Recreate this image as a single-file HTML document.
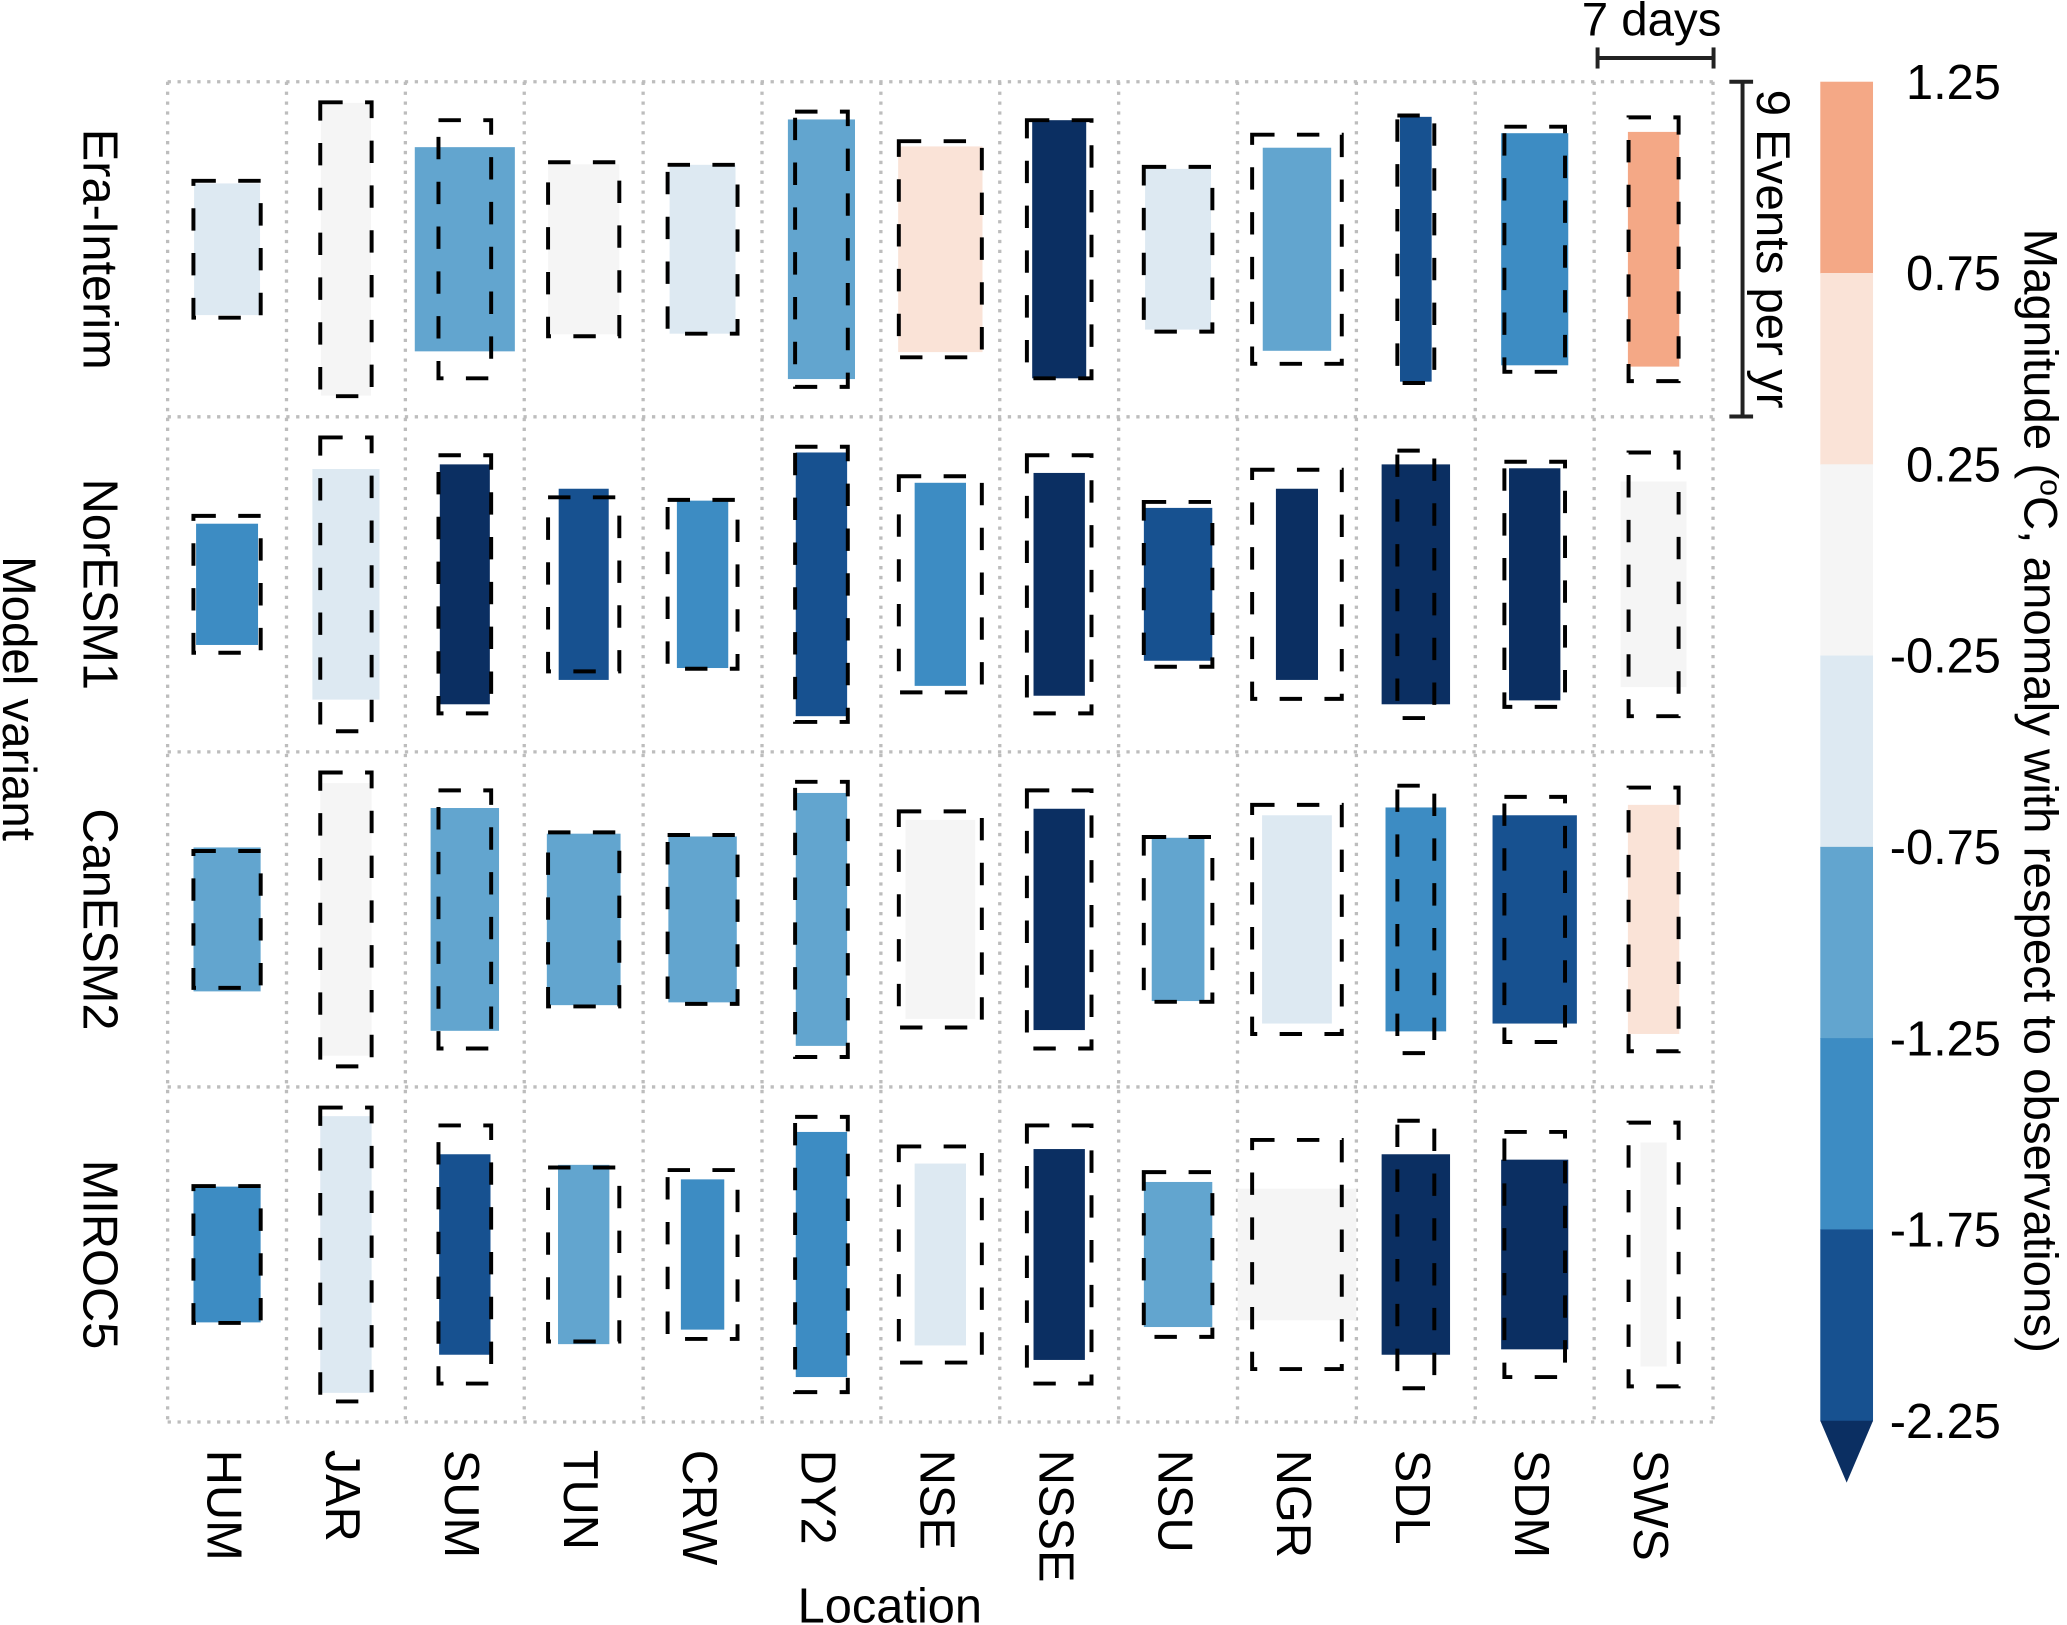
<!DOCTYPE html>
<html><head><meta charset="utf-8"><style>
html,body{margin:0;padding:0;background:#fff}
svg{display:block}
text{font-family:"Liberation Sans",Arial,sans-serif;fill:#000}
</style></head><body>
<svg id="chart" width="2067" height="1625" viewBox="0 0 1568 1233" xmlns="http://www.w3.org/2000/svg">
<g id="grid"></g>
<g id="marks"></g>
<g id="labels"></g>
<g id="cbar"></g>
</svg>
<script>
const locations=["HUM","JAR","SUM","TUN","CRW","DY2","NSE","NSSE","NSU","NGR","SDL","SDM","SWS"];
const models=["Era-Interim","NorESM1","CanESM2","MIROC5"];
// observations (dashed) per location
const obsDays=[4.06,3.10,3.18,4.30,4.22,3.18,5.01,3.90,4.14,5.41,2.23,3.66,3.02];
const obsEvents=[3.68,7.90,6.94,4.68,4.54,7.40,5.81,6.94,4.43,6.16,7.19,6.59,7.09];
// model durations (days)
const eraDays=[3.98,3.02,6.04,4.30,3.98,4.05,5.09,3.26,3.98,4.13,1.91,4.05,3.10];
const norDays=[3.74,4.05,3.02,3.02,3.10,3.10,3.10,3.10,4.13,2.54,4.13,3.10,3.98];
const canDays=[4.05,3.10,4.13,4.45,4.13,3.10,4.21,3.10,3.18,4.21,3.66,5.09,3.10];
const mirDays=[4.05,3.10,3.10,3.10,2.62,3.10,3.10,3.10,4.13,7.16,4.13,4.05,1.59];
// model events per year
const eraEvents=[3.54,7.87,5.49,4.57,4.54,6.98,5.53,6.94,4.32,5.46,7.12,6.24,6.31];
const norEvents=[3.26,6.20,6.45,5.14,4.50,7.09,5.46,5.99,4.11,5.14,6.45,6.24,5.53];
const canEvents=[3.87,7.33,5.99,4.61,4.46,6.80,5.35,5.95,4.39,5.60,6.02,5.60,6.16];
const mirEvents=[3.65,7.44,5.39,4.82,4.04,6.59,4.89,5.67,3.90,3.54,5.39,5.10,6.02];
// magnitude anomaly (°C)
const eraMag=[-0.5,0,-1.0,0,-0.5,-1.0,0.5,-2.5,-0.5,-1.0,-2.0,-1.5,1.0];
const norMag=[-1.5,-0.5,-2.5,-2.0,-1.5,-2.0,-1.5,-2.5,-2.0,-2.5,-2.5,-2.5,0];
const canMag=[-1.0,0,-1.0,-1.0,-1.0,-1.0,0,-2.5,-1.0,-0.5,-1.5,-2.0,0.5];
const mirMag=[-1.5,-0.5,-2.0,-1.0,-1.5,-1.5,-0.5,-2.5,-1.0,0,-2.5,-2.5,0];
const cbTicks=["1.25","0.75","0.25","-0.25","-0.75","-1.25","-1.75","-2.25"];
const cbBounds=[1.25,0.75,0.25,-0.25,-0.75,-1.25,-1.75,-2.25];
const cbColors=["#f4a886","#fae3d7","#f5f5f5","#dde9f2","#62a5cf","#3d8cc3","#175190"];
const underColor="#0b2f62";

const NS="http://www.w3.org/2000/svg";
function mk(tag,attrs,parent){const e=document.createElementNS(NS,tag);for(const k in attrs)e.setAttribute(k,attrs[k]);parent.appendChild(e);return e;}
const X0=127,CW=90.2,Y0=62,RH=254.25;
const pxPerDay=88/7, pxPerEvent=254/9;
const xScale=d=>d*pxPerDay, yScale=e=>e*pxPerEvent;
function colorFor(v){if(v<cbBounds[7])return underColor;for(let i=0;i<7;i++){if(v<=cbBounds[i]&&v>=cbBounds[i+1])return cbColors[i];}return cbColors[0];}
const grid=document.getElementById('grid'),marks=document.getElementById('marks'),labels=document.getElementById('labels'),cbar=document.getElementById('cbar');
const gs={stroke:"#bdbdbd","stroke-width":2.5,"stroke-dasharray":"2.5 5"};
for(let c=0;c<=locations.length;c++){const l=mk('line',Object.assign({x1:X0+c*CW,x2:X0+c*CW,y1:Y0,y2:Y0+4*RH},gs),grid);}
for(let r=0;r<=models.length;r++){const l=mk('line',Object.assign({x1:X0,x2:X0+13*CW,y1:Y0+r*RH,y2:Y0+r*RH},gs),grid);}
const allDays=[eraDays,norDays,canDays,mirDays],allEv=[eraEvents,norEvents,canEvents,mirEvents],allMag=[eraMag,norMag,canMag,mirMag];
for(let r=0;r<models.length;r++){
  const cy=Y0+(r+0.5)*RH;
  for(let c=0;c<locations.length;c++){
    const cx=X0+(c+0.5)*CW;
    const w=xScale(allDays[r][c]),h=yScale(allEv[r][c]);
    const rc=mk('rect',{x:cx-w/2,y:cy-h/2,width:w,height:h,fill:colorFor(allMag[r][c])},marks);
    
    
    const ow=xScale(obsDays[c]),oh=yScale(obsEvents[c]);
    const ob=mk('rect',{x:cx-ow/2,y:cy-oh/2,width:ow,height:oh,fill:"none",stroke:"#000","stroke-width":3,"stroke-dasharray":"17 17"},marks);
    
    
  }
  const t=mk('text',{x:0,y:0,"font-size":37,"text-anchor":"middle",transform:`translate(63,${cy}) rotate(90)`},labels);
  t.textContent=models[r];
  
  
}
for(let c=0;c<locations.length;c++){
  const cx=X0+(c+0.5)*CW;
  const t=mk('text',{x:0,y:0,"font-size":37,"text-anchor":"start",transform:`translate(${cx-15},1100) rotate(90)`},labels);
  t.textContent=locations[c];
  
  
}
let t=mk('text',{x:675,y:1231,"font-size":37,"text-anchor":"middle"},labels);t.textContent="Location";


t=mk('text',{x:0,y:0,"font-size":36,"text-anchor":"middle",transform:"translate(2,530) rotate(90)"},labels);t.textContent="Model variant";


// scale bars
const sb=mk('g',{stroke:"#222","stroke-width":3,fill:"none"},labels);


mk('line',{x1:1212,x2:1212+xScale(7),y1:44,y2:44},sb);mk('line',{x1:1212,x2:1212,y1:36,y2:52},sb);mk('line',{x1:1212+xScale(7),x2:1212+xScale(7),y1:36,y2:52},sb);
t=mk('text',{x:1253,y:27,"font-size":36,"text-anchor":"middle"},labels);t.textContent="7 days";


const eb=mk('g',{stroke:"#222","stroke-width":3,fill:"none"},labels);


mk('line',{x1:1322,x2:1322,y1:Y0,y2:Y0+yScale(9)},eb);mk('line',{x1:1312,x2:1330,y1:Y0,y2:Y0},eb);mk('line',{x1:1312,x2:1330,y1:Y0+yScale(9),y2:Y0+yScale(9)},eb);
t=mk('text',{x:0,y:0,"font-size":36,"text-anchor":"middle",transform:`translate(1333,189) rotate(90)`},labels);t.textContent="9 Events per yr";


// colorbar
const CBX=1381,CBW=40,CBT=62,CBB=1078;
const cy=v=>CBT+(cbBounds[0]-v)/(cbBounds[0]-cbBounds[7])*(CBB-CBT);
for(let i=0;i<7;i++){const r=mk('rect',{x:CBX,y:cy(cbBounds[i]),width:CBW,height:cy(cbBounds[i+1])-cy(cbBounds[i])+0.5,fill:cbColors[i]},cbar);

}
const tri=mk('polygon',{points:`${CBX},${CBB} ${CBX+CBW},${CBB} ${CBX+CBW/2},${CBB+47}`,fill:underColor},cbar);


for(let i=0;i<cbTicks.length;i++){const tt=mk('text',{x:1518,y:cy(cbBounds[i])+13,"font-size":37,"text-anchor":"end"},cbar);tt.textContent=cbTicks[i];

}
t=mk('text',{x:0,y:0,"font-size":36,"text-anchor":"middle",transform:"translate(1536,600) rotate(90)"},cbar);
t.innerHTML='Magnitude (<tspan baseline-shift="super" font-size="23">o</tspan>C, anomaly with respect to observations)';


</script>
</body></html>
